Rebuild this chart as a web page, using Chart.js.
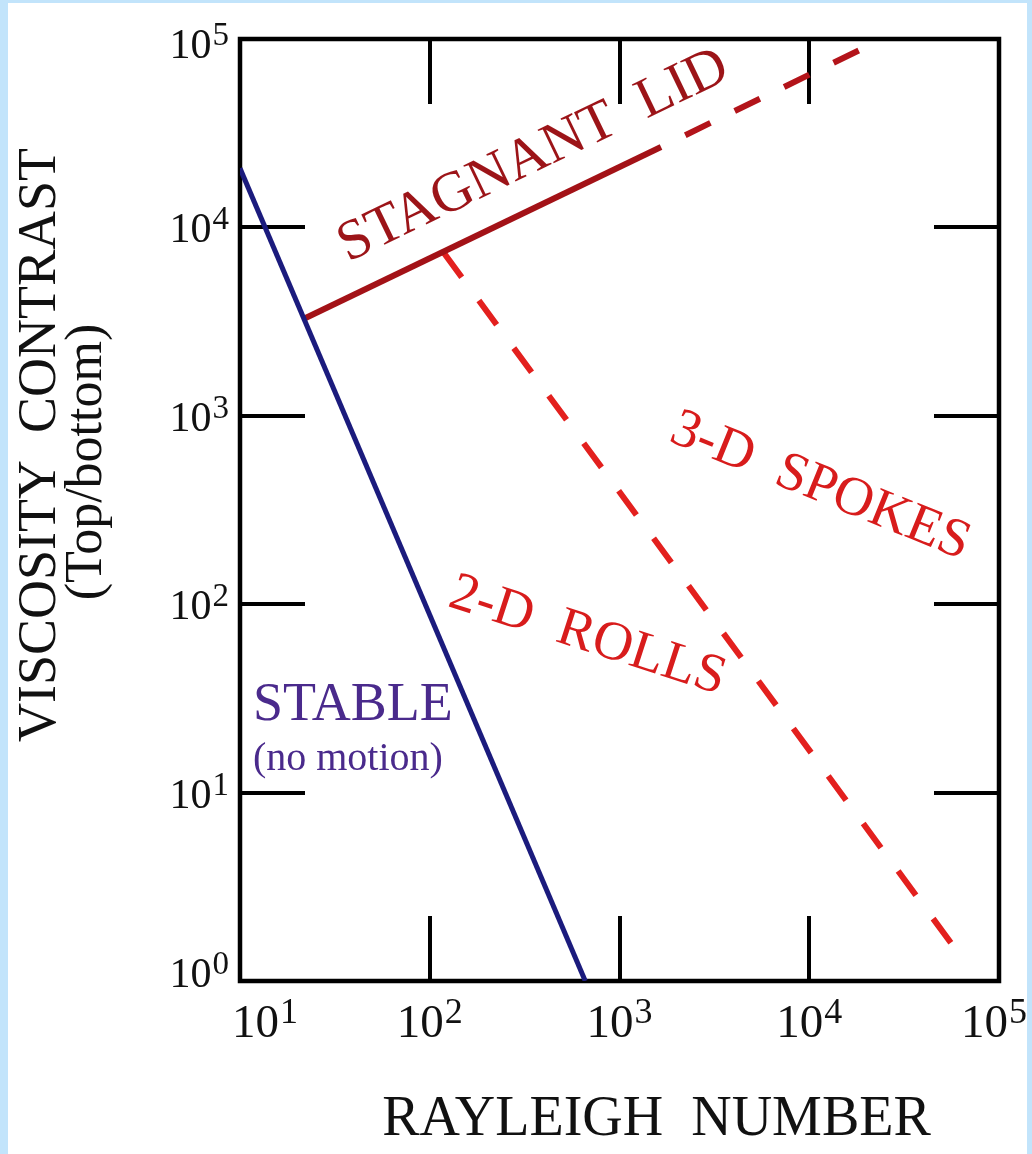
<!DOCTYPE html>
<html>
<head>
<meta charset="utf-8">
<script src="https://cdn.jsdelivr.net/npm/chart.js@4.4.1/dist/chart.umd.min.js"></script>
<style>
html, body { margin: 0; padding: 0; width: 1032px; height: 1154px; overflow: hidden; background: #c2e4fb; }
#wrap { position: absolute; left: 8px; top: 3px; width: 1019px; height: 1151px; background: #fff; }
</style>
</head>
<body>
<div id="wrap"><canvas id="chart" width="1019" height="1151"></canvas></div>
<script>
// tick positions (decades)
const xTicks = [10, 100, 1000, 10000, 100000];
const yTicks = [1, 10, 100, 1000, 10000, 100000];

// stable / no-motion boundary
const stableX = [10, 660];
const stableY = [20600, 1];

// stagnant lid boundary (solid part, then dashed part)
const lidX = [21.6, 1655];
const lidY = [3265, 26700];
const lidDashX = [1655, 19900];
const lidDashY = [26700, 90700];

// 2-D rolls / 3-D spokes boundary
const rollsX = [118.8, 66200];
const rollsY = [7310, 1.26];

const SERIF = "'Liberation Serif', 'DejaVu Serif', serif";

function pts(xs, ys) {
    return xs.map((x, i) => ({ x: x, y: ys[i] }));
}

// text drawn inside the plot, positioned in data units
const notes = [
    { text: 'STAGNANT  LID', x: 381, y: 20200, along: 'lid', size: 57, color: '#9c1418', align: 'center' },
    { text: '3-D  SPOKES', x: 10700, y: 357, angle: 22, size: 55, color: '#d81c1c', align: 'center' },
    { text: '2-D  ROLLS', x: 643, y: 57, angle: 18, size: 55, color: '#d81c1c', align: 'center' },
    { text: 'STABLE', x: 11.7, y: 24.3, angle: 0, size: 54, color: '#4a2a8c', align: 'left' },
    { text: '(no motion)', x: 11.7, y: 13.2, angle: 0, size: 40, color: '#4a2a8c', align: 'left' }
];

// "10" with a raised exponent, left edge at x
function drawPower(ctx, value, x, base, baseSize, expSize, rise) {
    const e = String(Math.round(Math.log10(value)));
    ctx.font = baseSize + 'px ' + SERIF;
    const w1 = ctx.measureText('10').width;
    ctx.fillText('10', x, base);
    ctx.font = expSize + 'px ' + SERIF;
    ctx.fillText(e, x + w1 + 1, base - rise);
}

function powerWidth(ctx, value, baseSize, expSize) {
    const e = String(Math.round(Math.log10(value)));
    ctx.font = baseSize + 'px ' + SERIF;
    const w1 = ctx.measureText('10').width;
    ctx.font = expSize + 'px ' + SERIF;
    return w1 + 1 + ctx.measureText(e).width;
}

const frame = {
    id: 'frame',
    beforeDatasetsDraw(chart) {
        const ctx = chart.ctx;
        const a = chart.chartArea;
        const xs = chart.scales.x;
        const ys = chart.scales.y;
        const len = 65;
        ctx.save();
        ctx.strokeStyle = '#000';
        ctx.lineWidth = 4;
        ctx.beginPath();
        xTicks.slice(1, -1).forEach(v => {
            const px = Math.round(xs.getPixelForValue(v));
            ctx.moveTo(px, a.bottom); ctx.lineTo(px, a.bottom - len);
            ctx.moveTo(px, a.top); ctx.lineTo(px, a.top + len);
        });
        yTicks.slice(1, -1).forEach(v => {
            const py = Math.round(ys.getPixelForValue(v));
            ctx.moveTo(a.left, py); ctx.lineTo(a.left + len, py);
            ctx.moveTo(a.right, py); ctx.lineTo(a.right - len, py);
        });
        ctx.stroke();
        ctx.lineWidth = 4.5;
        ctx.strokeRect(a.left, a.top, a.right - a.left, a.bottom - a.top);
        ctx.restore();
    },
    afterDraw(chart) {
        const ctx = chart.ctx;
        const a = chart.chartArea;
        const xs = chart.scales.x;
        const ys = chart.scales.y;
        const midX = (a.left + a.right) / 2;
        const midY = (a.top + a.bottom) / 2;
        ctx.save();
        ctx.fillStyle = '#111';
        ctx.textBaseline = 'alphabetic';

        // tick labels
        ctx.textAlign = 'left';
        xs.ticks.forEach((t, i) => {
            const px = xs.getPixelForValue(t.value);
            const w = powerWidth(ctx, t.value, 47, 36);
            let left = px - w / 2;
            if (i === 0) left = px - 8;
            if (i === xs.ticks.length - 1) left = px - 38;
            drawPower(ctx, t.value, left, a.bottom + 56, 47, 36, 14);
        });
        ys.ticks.forEach((t, i) => {
            const py = ys.getPixelForValue(t.value);
            const w = powerWidth(ctx, t.value, 42, 33);
            let base = py + 15;
            if (i === 0) base = py + 6;
            if (i === ys.ticks.length - 1) base = py + 19;
            drawPower(ctx, t.value, a.left - 11 - w, base, 42, 33, 13);
        });

        // axis titles
        ctx.textAlign = 'center';
        ctx.font = '56px ' + SERIF;
        ctx.fillText('RAYLEIGH  NUMBER', midX + 37, a.bottom + 154);

        ctx.save();
        ctx.translate(a.left - 185, midY - 65);
        ctx.rotate(-Math.PI / 2);
        ctx.font = '54px ' + SERIF;
        ctx.fillText('VISCOSITY  CONTRAST', 0, 0);
        ctx.restore();

        ctx.save();
        ctx.translate(a.left - 139, midY - 48);
        ctx.rotate(-Math.PI / 2);
        ctx.font = '52px ' + SERIF;
        ctx.fillText('(Top/bottom)', 0, 0);
        ctx.restore();

        // labels in the plot
        const lidAngle = Math.atan2(
            ys.getPixelForValue(lidY[1]) - ys.getPixelForValue(lidY[0]),
            xs.getPixelForValue(lidX[1]) - xs.getPixelForValue(lidX[0])
        );
        notes.forEach(n => {
            ctx.save();
            ctx.translate(xs.getPixelForValue(n.x), ys.getPixelForValue(n.y));
            ctx.rotate(n.along === 'lid' ? lidAngle : n.angle * Math.PI / 180);
            ctx.font = n.size + 'px ' + SERIF;
            ctx.fillStyle = n.color;
            ctx.textAlign = n.align;
            ctx.fillText(n.text, 0, 0);
            ctx.restore();
        });
        ctx.restore();
    }
};

new Chart(document.getElementById('chart'), {
    type: 'line',
    data: {
        datasets: [
            {
                label: 'Stable',
                data: pts(stableX, stableY),
                borderColor: '#1b1b7d',
                borderWidth: 5
            },
            {
                label: 'Stagnant lid',
                data: pts(lidX, lidY),
                borderColor: '#a31217',
                borderWidth: 6
            },
            {
                label: 'Stagnant lid (extrapolated)',
                data: pts(lidDashX, lidDashY),
                borderColor: '#b3141a',
                borderWidth: 6,
                borderDash: [28, 27],
                borderDashOffset: 28
            },
            {
                label: 'Rolls / spokes',
                data: pts(rollsX, rollsY),
                borderColor: '#e3201e',
                borderWidth: 6,
                borderDash: [30, 29]
            }
        ]
    },
    options: {
        responsive: false,
        devicePixelRatio: 1,
        animation: false,
        layout: { padding: { top: 36, right: 28, left: 0, bottom: 0 } },
        elements: { point: { radius: 0 }, line: { tension: 0, fill: false } },
        plugins: { legend: { display: false }, tooltip: { enabled: false } },
        scales: {
            x: {
                type: 'logarithmic',
                min: 10,
                max: 100000,
                grid: { display: false },
                border: { display: false },
                afterBuildTicks: scale => { scale.ticks = xTicks.map(v => ({ value: v })); },
                afterFit: scale => {
                    scale.height = 173;
                    scale.paddingLeft = 0;
                    scale.paddingRight = 0;
                },
                ticks: { display: false, autoSkip: false, maxRotation: 0 }
            },
            y: {
                type: 'logarithmic',
                min: 1,
                max: 100000,
                grid: { display: false },
                border: { display: false },
                afterBuildTicks: scale => { scale.ticks = yTicks.map(v => ({ value: v })); },
                afterFit: scale => {
                    scale.width = 232;
                    scale.paddingTop = 0;
                    scale.paddingBottom = 0;
                },
                ticks: { display: false, autoSkip: false }
            }
        }
    },
    plugins: [frame]
});
</script>
</body>
</html>
